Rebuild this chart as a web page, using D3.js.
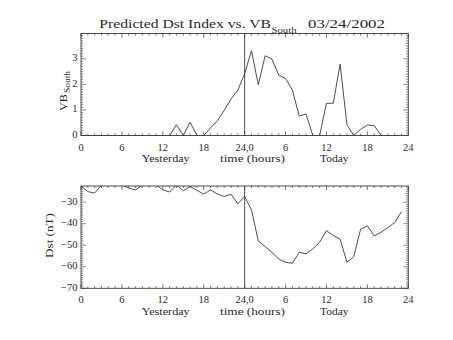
<!DOCTYPE html>
<html><head><meta charset="utf-8">
<script src="https://cdn.jsdelivr.net/npm/d3@7"></script>
<style>body{margin:0;background:#fff}svg{display:block}text{font-family:"Liberation Serif",serif;fill:#2a2a2a}</style>
</head><body><div id="chart"></div>
<script>
const hours = [0,1,2,3,4,5,6,7,8,9,10,11,12,13,14,15,16,17,18,19,20,21,22,23,24,25,26,27,28,29,30,31,32,33,34,35,36,37,38,39,40,41,42,43,44,45,46,47];
const vbSouth = [0,0,0,0,0,0,0,0,0,0,0,0,0,0,0.42,0,0.52,0,0,0.3,0.58,0.98,1.43,1.77,2.42,3.32,1.98,3.12,2.99,2.36,2.23,1.78,0.76,0.84,0,0,1.26,1.26,2.79,0.42,0,0.24,0.41,0.39,0,0,0,0];
const dst = [-22.5,-25.1,-25.8,-22,-20,-20,-22,-23.5,-24.3,-22,-20,-22,-24.3,-25.3,-22,-24.7,-22.7,-24.5,-26.3,-24.3,-26.2,-27.4,-26.3,-30.8,-27.4,-33.6,-48,-50.6,-53.3,-56.4,-57.9,-58.4,-53.3,-54,-51.7,-48.6,-43.2,-45.5,-47.2,-57.9,-55.3,-42.6,-41,-45.7,-44,-41.8,-39.5,-34.4];
const xTicks = [0,6,12,18,24,30,36,42,48];
const xTickLabels = ["0","6","12","18","24,0","6","12","18","24"];
const vbTicks = [0,1,2,3];
const dstTicks = [-30,-40,-50,-60,-70];

const W=453,H=340;
const svg=d3.select("#chart").append("svg").attr("width",W).attr("height",H);
const L=81,R=408.3;
const x=d3.scaleLinear().domain([0,48]).range([L,R]);
const col="#3a3a3a";

function panel(top,bottom,yDomain,vals,yTicks,yMinorStep,id){
  const y=d3.scaleLinear().domain(yDomain).range([bottom,top]);
  const g=svg.append("g");
  g.append("clipPath").attr("id",id).append("rect").attr("x",L).attr("y",top).attr("width",R-L).attr("height",bottom-top);
  const xm=d3.range(0,49,1);
  xm.forEach(h=>{
    const len = h%6===0?4:2;
    g.append("line").attr("x1",x(h)).attr("x2",x(h)).attr("y1",bottom).attr("y2",bottom-len).attr("stroke",col).attr("stroke-width",0.7);
    g.append("line").attr("x1",x(h)).attr("x2",x(h)).attr("y1",top).attr("y2",top+len).attr("stroke",col).attr("stroke-width",0.7);
  });
  const [y0,y1]=yDomain;
  const ym=d3.range(Math.ceil(y0/yMinorStep)*yMinorStep, y1+1e-9, yMinorStep);
  ym.forEach(v=>{
    const isMaj = yTicks.some(t=>Math.abs(t-v)<1e-6);
    const len=isMaj?5:2.2;
    g.append("line").attr("x1",L).attr("x2",L+len).attr("y1",y(v)).attr("y2",y(v)).attr("stroke",col).attr("stroke-width",0.6);
    g.append("line").attr("x1",R).attr("x2",R-len).attr("y1",y(v)).attr("y2",y(v)).attr("stroke",col).attr("stroke-width",0.6);
  });
  g.append("rect").attr("x",L).attr("y",top).attr("width",R-L).attr("height",bottom-top).attr("fill","none").attr("stroke",col).attr("stroke-width",0.9);
  g.append("line").attr("x1",x(24)).attr("x2",x(24)).attr("y1",top).attr("y2",bottom).attr("stroke",col).attr("stroke-width",0.9);
  g.append("path").datum(hours.map((h,i)=>[h,vals[i]])).attr("clip-path",`url(#${id})`)
    .attr("d",d3.line().x(d=>x(d[0])).y(d=>y(d[1]))).attr("fill","none").attr("stroke",col).attr("stroke-width",0.9);
  xTicks.forEach((t,i)=>{
    g.append("text").attr("x",x(t)).attr("y",bottom+15).attr("text-anchor","middle").attr("font-size",10.5).text(xTickLabels[i]);
  });
  yTicks.forEach(t=>{
    g.append("text").attr("x",L-3.5).attr("y",y(t)+2.5).attr("text-anchor","end").attr("font-size",10.5).text(String(t).replace("-","\u2212"));
  });
  g.append("text").attr("x",141.7).attr("y",bottom+26.5).attr("font-size",11).attr("textLength",48).attr("lengthAdjust","spacingAndGlyphs").text("Yesterday");
  g.append("text").attr("x",220).attr("y",bottom+26.5).attr("font-size",11).attr("textLength",65).attr("lengthAdjust","spacingAndGlyphs").text("time (hours)");
  g.append("text").attr("x",320).attr("y",bottom+26.5).attr("font-size",11).attr("textLength",28.5).attr("lengthAdjust","spacingAndGlyphs").text("Today");
  return y;
}

panel(33.5,135.5,[0,3.99],vbSouth,vbTicks,0.1,"c1");
panel(186,288.3,[-70,-22.5],dst,dstTicks,1,"c2");

svg.append("text").attr("x",99.3).attr("y",28.3).attr("font-size",13).attr("textLength",171.7).attr("lengthAdjust","spacingAndGlyphs").text("Predicted Dst Index vs. VB");
svg.append("text").attr("x",271.5).attr("y",32.5).attr("font-size",8).attr("textLength",25).attr("lengthAdjust","spacingAndGlyphs").text("South");
svg.append("text").attr("x",308).attr("y",28.3).attr("font-size",13).attr("textLength",77).attr("lengthAdjust","spacingAndGlyphs").text("03/24/2002");

svg.append("text").attr("transform","translate(67,111) rotate(-90)").attr("font-size",11).attr("textLength",17).attr("lengthAdjust","spacingAndGlyphs").text("VB");
svg.append("text").attr("transform","translate(70,93) rotate(-90)").attr("font-size",7.5).attr("textLength",22).attr("lengthAdjust","spacingAndGlyphs").text("South");
svg.append("text").attr("transform","translate(53.3,258) rotate(-90)").attr("font-size",11).attr("textLength",45).attr("lengthAdjust","spacingAndGlyphs").text("Dst (nT)");
</script></body></html>
